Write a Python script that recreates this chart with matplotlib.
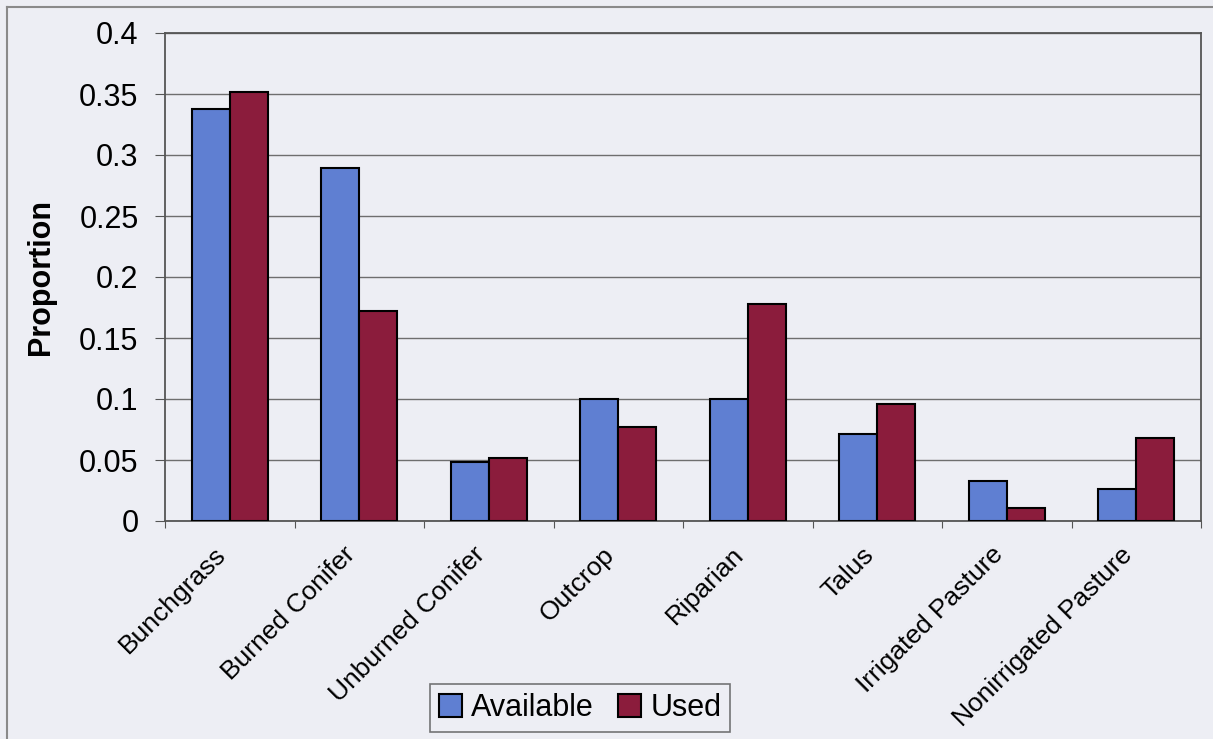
import numpy as np
import matplotlib
matplotlib.use("Agg")
import matplotlib.pyplot as plt
import matplotlib.transforms as mtransforms
from matplotlib.lines import Line2D

# habitat categories and proportions
habitats = ["Bunchgrass", "Burned Conifer", "Unburned Conifer", "Outcrop",
            "Riparian", "Talus", "Irrigated Pasture", "Nonirrigated Pasture"]
available = [0.338, 0.289, 0.048, 0.100, 0.100, 0.071, 0.033, 0.026]
used = [0.352, 0.172, 0.052, 0.077, 0.178, 0.096, 0.011, 0.068]
yticks = [0, 0.05, 0.1, 0.15, 0.2, 0.25, 0.3, 0.35, 0.4]
ytick_labels = ["0", "0.05", "0.1", "0.15", "0.2", "0.25", "0.3", "0.35", "0.4"]

plt.rcParams['font.family'] = ['Liberation Sans', 'DejaVu Sans']

bg = '#edeef4'
blue = '#5f7fd2'
red = '#8b1c3c'

fig = plt.figure(figsize=(12.13, 7.39), dpi=100, facecolor=bg)
ax = fig.add_axes([165 / 1213, 1 - 521 / 739, (1201 - 165) / 1213, (521 - 33) / 739])
ax.set_facecolor(bg)

# outer chart border (only top and left visible in the scan)
fig.add_artist(Line2D([7 / 1213, 7 / 1213], [0, 1 - 7 / 739], transform=fig.transFigure,
                      color='#8a8a8a', lw=1.5))
fig.add_artist(Line2D([7 / 1213, 1], [1 - 7 / 739, 1 - 7 / 739], transform=fig.transFigure,
                      color='#8a8a8a', lw=1.5))

x = np.arange(len(habitats))
w = 0.295
ax.bar(x - w / 2, available, w, color=blue, edgecolor='black', lw=1.5, label='Available', zorder=3)
ax.bar(x + w / 2, used, w, color=red, edgecolor='black', lw=1.5, label='Used', zorder=3)

ax.set_xlim(-0.5, len(habitats) - 0.5)
ax.set_ylim(0, 0.4)
ax.set_yticks(yticks)
ax.set_yticklabels(ytick_labels, fontsize=22)
ax.yaxis.grid(True, color='#6e6e6e', lw=1.0, zorder=0)

# x ticks sit between categories
ax.set_xticks(np.arange(-0.5, len(habitats), 1.0))
ax.set_xticklabels([])
ax.set_xticks(x, minor=True)
ax.set_xticklabels(habitats, minor=True, rotation=45, ha='right', va='top',
                   rotation_mode='anchor', fontsize=19)
ax.tick_params(axis='x', which='minor', length=0, pad=14)
ax.tick_params(axis='x', which='major', length=5, direction='out', color='#555555')
ax.tick_params(axis='y', length=7, direction='out', color='#555555', pad=12)

# nudge rotated labels a little left, as in the original
shift = mtransforms.ScaledTranslation(-16 / 100, -2 / 100, fig.dpi_scale_trans)
for lab in ax.get_xticklabels(minor=True):
    lab.set_transform(lab.get_transform() + shift)

for s in ax.spines.values():
    s.set_color('#555555')
    s.set_linewidth(1.3)

ax.set_ylabel('Proportion', fontsize=22, fontweight='bold')
ax.yaxis.set_label_coords(-0.105, 0.5)

leg = fig.legend(loc='center', bbox_to_anchor=(580 / 1213, 1 - 708 / 739), ncol=2,
                 fontsize=22, frameon=True, fancybox=False, edgecolor='#555555',
                 facecolor=bg, handlelength=0.75, handleheight=0.75, handletextpad=0.3,
                 columnspacing=0.8, borderpad=0.3)
leg.get_frame().set_linewidth(1.2)

fig.savefig('out.png', dpi=100, facecolor=bg)
